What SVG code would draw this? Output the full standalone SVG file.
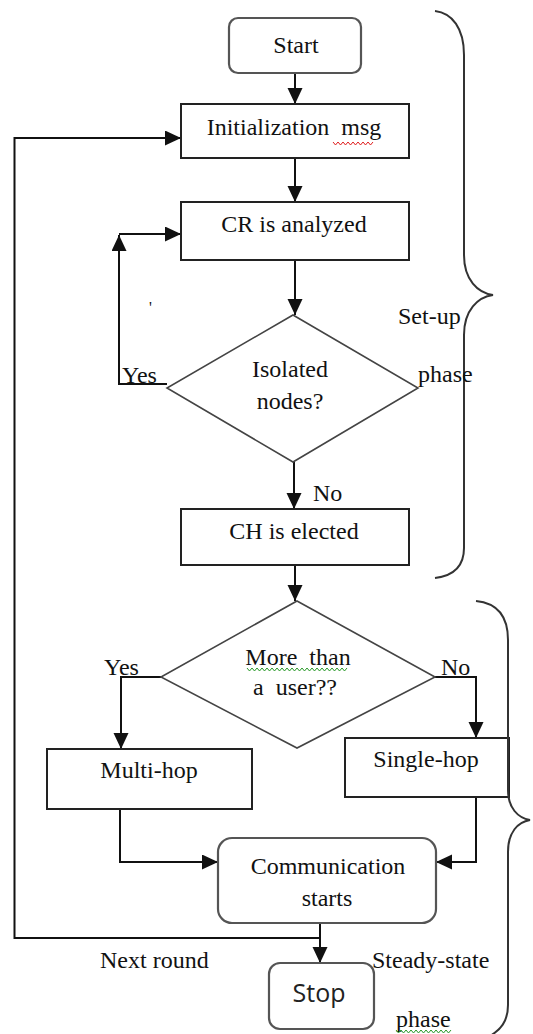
<svg xmlns="http://www.w3.org/2000/svg" width="533" height="1034" viewBox="0 0 533 1034">
<style>
.box{fill:#fff;stroke:#222;stroke-width:2}
.rbox{fill:#fff;stroke:#555;stroke-width:2.2}
.dia{fill:#fff;stroke:#444;stroke-width:1.6}
.t{font-family:"Liberation Serif","Times New Roman",serif;font-size:24px;fill:#111;white-space:pre}
.c{text-anchor:middle}
.s{font-family:"Open Sans","Liberation Sans",sans-serif;font-size:25px;fill:#222;text-anchor:middle}
.ln{fill:none;stroke:#111;stroke-width:2}
.br{fill:none;stroke:#333;stroke-width:2}
.sqr{fill:none;stroke:#e02020;stroke-width:1}
.sqg{fill:none;stroke:#2a9a2a;stroke-width:1}
</style>
<defs>
<marker id="ah" markerUnits="userSpaceOnUse" markerWidth="17" markerHeight="16" refX="16" refY="7.5" orient="auto">
<path d="M0,0 L16,7.5 L0,15 z" fill="#111"/>
</marker>
</defs>
<rect width="533" height="1034" fill="#fff"/>

<g id="connectors">
<path class="ln" d="M295,73 V104" marker-end="url(#ah)"/>
<path class="ln" d="M295,158 V202" marker-end="url(#ah)"/>
<path class="ln" d="M295,260 V315" marker-end="url(#ah)"/>
<path class="ln" d="M167,384 H119 V235" marker-end="url(#ah)"/>
<path class="ln" d="M119,234 H181" marker-end="url(#ah)"/>
<path class="ln" d="M294,462 V509" marker-end="url(#ah)"/>
<path class="ln" d="M295,565 V601" marker-end="url(#ah)"/>
<path class="ln" d="M161,677 H121 V749" marker-end="url(#ah)"/>
<path class="ln" d="M435,677 H476 V738" marker-end="url(#ah)"/>
<path class="ln" d="M120,809 V862 H218" marker-end="url(#ah)"/>
<path class="ln" d="M476,797 V862 H436" marker-end="url(#ah)"/>
<path class="ln" d="M320,923 V963" marker-end="url(#ah)"/>
<path class="ln" d="M320,938 H14.5 V138 H181" marker-end="url(#ah)"/>
</g>

<g id="start">
<rect class="rbox" x="229" y="18" width="132" height="55" rx="9"/>
<text class="t c" x="296" y="53">Start</text>
</g>
<g id="init">
<rect class="box" x="181" y="104" width="228" height="54"/>
<text class="t c" x="294" y="135">Initialization  msg</text>
<path class="sqr" d="M333,142 l2.5,3 l2.5,-3 l2.5,3 l2.5,-3 l2.5,3 l2.5,-3 l2.5,3 l2.5,-3 l2.5,3 l2.5,-3 l2.5,3 l2.5,-3 l2.5,3 l2.5,-3 l2.5,3 l2.5,-3"/>
</g>
<g id="cr">
<rect class="box" x="181" y="202" width="228" height="58"/>
<text class="t c" x="294" y="232">CR is analyzed</text>
</g>
<text class="t" x="149" y="313" style="font-size:16px">'</text>
<g id="isolated">
<polygon class="dia" points="293,315 418,388 293,462 167,388"/>
<text class="t c" x="290" y="377">Isolated</text>
<text class="t c" x="290" y="409">nodes?</text>
</g>
<text class="t" x="122" y="383">Yes</text>
<text class="t" x="313" y="501">No</text>
<g id="ch">
<rect class="box" x="181" y="509" width="228" height="56"/>
<text class="t c" x="294" y="539">CH is elected</text>
</g>
<g id="moreuser">
<polygon class="dia" points="297,601 435,677 297,748 161,677"/>
<text class="t c" x="298" y="665">More  than</text>
<path class="sqg" d="M247,668 l2.5,3 l2.5,-3 l2.5,3 l2.5,-3 l2.5,3 l2.5,-3 l2.5,3 l2.5,-3 l2.5,3 l2.5,-3 l2.5,3 l2.5,-3 l2.5,3 l2.5,-3 l2.5,3 l2.5,-3 l2.5,3 l2.5,-3 l2.5,3 l2.5,-3 l2.5,3 l2.5,-3 l2.5,3 l2.5,-3 l2.5,3 l2.5,-3 l2.5,3 l2.5,-3 l2.5,3 l2.5,-3 l2.5,3 l2.5,-3 l2.5,3 l2.5,-3 l2.5,3 l2.5,-3 l2.5,3 l2.5,-3 l2.5,3 l2.5,-3"/>
<text class="t c" x="295" y="695">a  user??</text>
</g>
<text class="t" x="104" y="675">Yes</text>
<text class="t" x="441" y="675">No</text>
<g id="multihop">
<rect class="box" x="47" y="749" width="205" height="60"/>
<text class="t c" x="149" y="778">Multi-hop</text>
</g>
<g id="singlehop">
<rect class="box" x="345" y="738" width="164" height="59"/>
<text class="t c" x="426" y="767">Single-hop</text>
</g>
<g id="comm">
<rect class="rbox" x="218" y="838" width="218" height="85" rx="14"/>
<text class="t c" x="328" y="874">Communication</text>
<text class="t c" x="327" y="906">starts</text>
</g>
<g id="stop">
<rect class="rbox" x="269" y="963" width="105" height="66" rx="11"/>
<text class="s" x="319" y="1002">Stop</text>
</g>
<text class="t" x="100" y="968">Next round</text>

<g id="setup-brace">
<path class="br" d="M435,11 C452,13 464,28 464,55 L464,255 C464,280 478,293 493,295 C478,297 464,310 464,335 L464,548 C464,568 452,576 435,578"/>
<text class="t" x="398" y="324">Set-up</text>
<text class="t" x="418" y="382">phase</text>
</g>
<g id="steady-brace">
<path class="br" d="M476,601 C496,603 508,615 508,640 L508,790 C508,808 518,818 530,820 C518,822 508,832 508,852 L508,1005 C508,1022 500,1030 490,1036"/>
<text class="t" x="372" y="968">Steady-state</text>
<text class="t" x="396" y="1027">phase</text>
<path class="sqg" d="M396,1030 l2.5,3 l2.5,-3 l2.5,3 l2.5,-3 l2.5,3 l2.5,-3 l2.5,3 l2.5,-3 l2.5,3 l2.5,-3 l2.5,3 l2.5,-3 l2.5,3 l2.5,-3 l2.5,3 l2.5,-3 l2.5,3 l2.5,-3 l2.5,3 l2.5,-3 l2.5,3 l2.5,-3"/>
</g>
</svg>
